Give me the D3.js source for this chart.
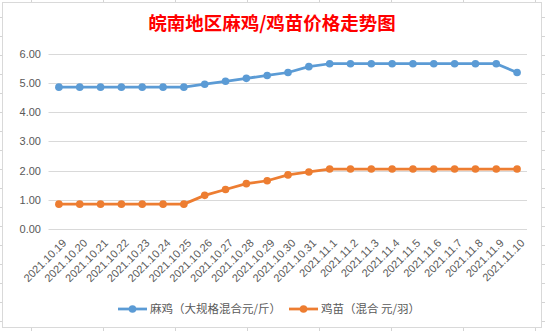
<!DOCTYPE html>
<html><head><meta charset="utf-8">
<script src="https://cdn.jsdelivr.net/npm/d3@7/dist/d3.min.js"></script>
<style>html,body{margin:0;padding:0;background:#fff;}svg{display:block;}</style>
</head><body>
<script>
const categories = ["2021.10.19","2021.10.20","2021.10.21","2021.10.22","2021.10.23","2021.10.24","2021.10.25","2021.10.26","2021.10.27","2021.10.28","2021.10.29","2021.10.30","2021.10.31","2021.11.1","2021.11.2","2021.11.3","2021.11.4","2021.11.5","2021.11.6","2021.11.7","2021.11.8","2021.11.9","2021.11.10"];
const maji = [4.85,4.85,4.85,4.85,4.85,4.85,4.85,4.95,5.05,5.15,5.25,5.35,5.55,5.65,5.65,5.65,5.65,5.65,5.65,5.65,5.65,5.65,5.35];
const jimiao = [0.85,0.85,0.85,0.85,0.85,0.85,0.85,1.15,1.35,1.55,1.65,1.85,1.95,2.05,2.05,2.05,2.05,2.05,2.05,2.05,2.05,2.05,2.05];
const yTicks = [0,1,2,3,4,5,6];
const seriesNames = ["麻鸡（大规格混合元/斤）","鸡苗（混合 元/羽）"];
const colors = ["#5B9BD5","#ED7D31"];
const title = "皖南地区麻鸡/鸡苗价格走势图";
</script>
<script>
const W = 545, H = 331;
const svg = d3.select("body").append("svg").attr("width", W).attr("height", H);

// spreadsheet background grid
const bg = svg.append("g").attr("stroke", "#d4d4d4").attr("stroke-width", 1);
d3.range(0, 8).forEach(i => {
  const x = Math.round(30.5 + i * 72) + 0.5;
  bg.append("line").attr("x1", x).attr("x2", x).attr("y1", 0).attr("y2", H);
});
d3.range(0, 17).forEach(i => {
  const y = Math.round(17 + i * 19) + 0.5;
  bg.append("line").attr("x1", 0).attr("x2", W).attr("y1", y).attr("y2", y);
});

// chart box
svg.append("rect").attr("x", 2.5).attr("y", 2.5).attr("width", 539).attr("height", 325)
  .attr("fill", "#fff").attr("stroke", "#d9d9d9");

// title
svg.append("text").attr("x", 272).attr("y", 30).attr("text-anchor", "middle")
  .attr("font-family", "'Noto Sans CJK SC'").attr("font-weight", "bold")
  .attr("font-size", 18.5).attr("fill", "#ff0000").text(title);

const x = d3.scalePoint().domain(categories).range([48.5, 527.5]).padding(0.5);
const y = d3.scaleLinear().domain([0, 6]).range([229, 53.5]);

// gridlines
const grid = svg.append("g");
grid.selectAll("line").data(yTicks).join("line")
  .attr("x1", 48.5).attr("x2", 527)
  .attr("y1", d => Math.round(y(d)) + 0.5).attr("y2", d => Math.round(y(d)) + 0.5)
  .attr("stroke", "#d9d9d9").attr("stroke-width", 1);

// y axis
const yAxis = d3.axisLeft(y).tickValues(yTicks).tickFormat(d3.format(".2f")).tickSize(0).tickPadding(0);
const ya = svg.append("g").attr("transform", "translate(41,0)").call(yAxis);
ya.select(".domain").remove();
ya.selectAll("text").attr("font-family", "'Liberation Sans'").attr("font-size", 11).attr("fill", "#595959");

// x axis
const xAxis = d3.axisBottom(x).tickSize(0).tickPadding(0);
const xa = svg.append("g").attr("transform", "translate(0,236)").call(xAxis);
xa.select(".domain").remove();
xa.selectAll("text")
  .attr("font-family", "'Liberation Sans'").attr("font-size", 11).attr("fill", "#595959")
  .attr("text-anchor", "end").attr("dy", "0.35em")
  .attr("transform", "translate(5,5) rotate(-45)");

// series
const series = [maji, jimiao];
const line = d3.line().x((d, i) => x(categories[i])).y(d => y(d));
series.forEach((s, k) => {
  const g = svg.append("g");
  g.append("path").datum(s).attr("d", line).attr("fill", "none")
    .attr("stroke", colors[k]).attr("stroke-width", 2.75).attr("stroke-linejoin", "round");
  g.selectAll("circle").data(s).join("circle")
    .attr("cx", (d, i) => x(categories[i])).attr("cy", d => y(d)).attr("r", 3.8)
    .attr("fill", colors[k]);
});

// legend
const lg = svg.append("g").attr("transform", "translate(0,309)");
let lx = 118;
seriesNames.forEach((n, k) => {
  lg.append("line").attr("x1", lx).attr("x2", lx + 29).attr("y1", 0).attr("y2", 0)
    .attr("stroke", colors[k]).attr("stroke-width", 2.75);
  lg.append("circle").attr("cx", lx + 14.5).attr("cy", 0).attr("r", 3.8).attr("fill", colors[k]);
  const t = lg.append("text").attr("x", lx + 32).attr("y", 0).attr("dy", "0.35em")
    .attr("font-family", "'Noto Sans CJK SC'").attr("font-size", 11.5).attr("fill", "#595959").text(n);
  lx += 32 + t.node().getComputedTextLength() + 8;
});
</script>
</body></html>
